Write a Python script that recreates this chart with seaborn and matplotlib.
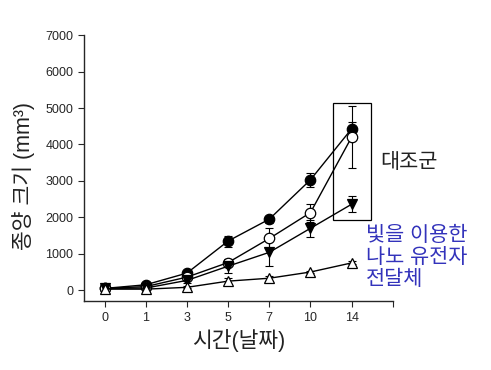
import matplotlib
matplotlib.use("Agg")
from matplotlib import pyplot as plt
from matplotlib.patches import Rectangle
import numpy as np
import pandas as pd
import seaborn as sns

sns.set_style("ticks")
plt.rcParams['font.family'] = ['Liberation Sans', 'Noto Sans CJK KR', 'DejaVu Sans']

# data
days = ["0", "1", "3", "5", "7", "10", "14"]
control_filled = [50, 150, 470, 1350, 1950, 3030, 4430]
control_filled_err = [30, 40, 60, 150, 100, 200, 200]
control_open = [50, 100, 360, 760, 1420, 2130, 4200]
control_open_err = [30, 30, 60, 100, 300, 250, 850]
light_filled = [50, 60, 270, 660, 1040, 1700, 2360]
light_filled_err = [20, 30, 60, 190, 380, 230, 220]
light_open = [30, 30, 80, 250, 330, 500, 750]
light_open_err = [20, 20, 30, 80, 70, 40, 40]

series = [
    ("filled_circle", control_filled, control_filled_err, "o", "black"),
    ("open_circle", control_open, control_open_err, "o", "white"),
    ("filled_tri", light_filled, light_filled_err, "v", "black"),
    ("open_tri", light_open, light_open_err, "^", "white"),
]

fig = plt.figure(figsize=(4.91, 3.70), dpi=100)
ax = fig.add_axes([0.171, 0.186, 0.629, 0.719])

xpos = np.arange(len(days))
for name, vals, errs, mk, fc in series:
    df = pd.DataFrame({"x": xpos, "y": vals})
    ax.errorbar(xpos, vals, yerr=errs, fmt="none", ecolor="black",
                elinewidth=0.8, capsize=3, capthick=0.8, zorder=2)
    sns.lineplot(data=df, x="x", y="y", ax=ax, color="black", linewidth=1.0,
                 marker=mk, markersize=7.5, markerfacecolor=fc,
                 markeredgecolor="black", markeredgewidth=0.9, zorder=3)

ax.add_patch(Rectangle((5.55, 1920), 0.93, 3210, fill=False,
                       edgecolor="black", linewidth=0.9, zorder=4))

ax.set_xlim(-0.5, 7.0)
ax.set_ylim(-300, 7000)
ax.set_xticks(list(xpos) + [7])
ax.set_xticklabels(days + [""])
ax.set_yticks(range(0, 7001, 1000))
ax.tick_params(labelsize=9, length=4, width=0.8, direction="out")
sns.despine(ax=ax)
ax.spines["left"].set_bounds(-300, 7000)
for s in ("left", "bottom"):
    ax.spines[s].set_linewidth(1.0)

ax.set_xlabel("시간(날짜)", fontsize=15.5, color="#222222", labelpad=4)
ax.set_ylabel("종양 크기 (mm³)", fontsize=15.5, color="#222222")
ax.yaxis.set_label_coords(-0.16, 0.47)

fig.text(0.774, 0.56, "대조군", fontsize=15, color="#222222", va="center")
fig.text(0.745, 0.305, "빛을 이용한\n나노 유전자\n전달체", fontsize=15,
         color="#3333bb", va="center", linespacing=1.2)

fig.savefig("out.png", dpi=100)
